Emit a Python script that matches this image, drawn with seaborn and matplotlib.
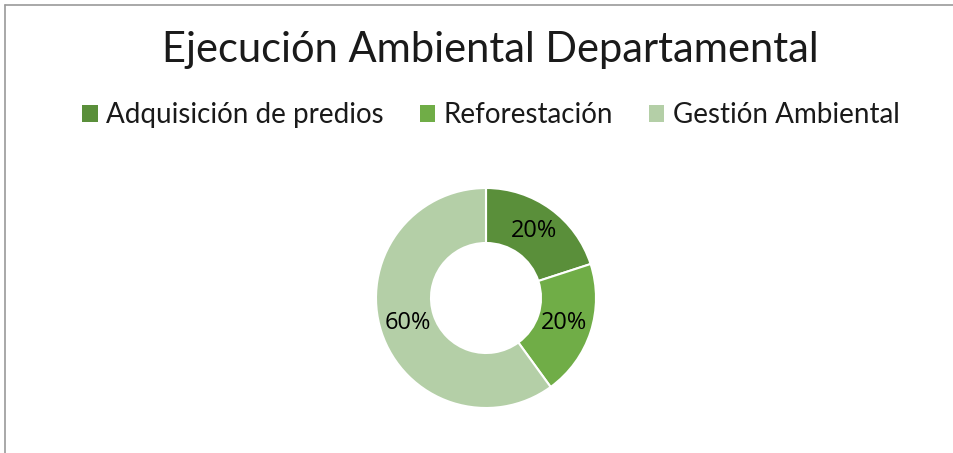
import matplotlib
matplotlib.use('Agg')
import matplotlib.pyplot as plt
from matplotlib.lines import Line2D
from matplotlib.patches import Patch
import seaborn as sns

categories = ['Adquisición de predios', 'Reforestación', 'Gestión Ambiental']
values = [20, 20, 60]
colors = ['#5A8F3A', '#70AD47', '#B4CFA7']

sns.set_theme(style='white')
plt.rcParams['font.family'] = ['Lato', 'DejaVu Sans']

W, H = 954, 453
fig = plt.figure(figsize=(W / 100, H / 100), dpi=100)
fig.patch.set_facecolor('white')

# donut centred at (486, 298) px, outer radius 110 px
cx, cy, r = 486, 298, 110
ax = fig.add_axes([(cx - r) / W, (H - cy - r) / H, 2 * r / W, 2 * r / H])
wedges, texts, autotexts = ax.pie(
    values, colors=colors, startangle=90, counterclock=False,
    autopct='%1.0f%%', pctdistance=0.75,
    wedgeprops=dict(width=0.5, edgecolor='white', linewidth=1.5),
    textprops=dict(fontsize=17, color='black', family=['Open Sans', 'DejaVu Sans']))
ax.set_xlim(-1, 1)
ax.set_ylim(-1, 1)
ax.set_aspect('equal')
ax.axis('off')

fig.text(490 / W, 1 - 50 / H, 'Ejecución Ambiental Departamental',
         ha='center', va='center', fontsize=30, color='#1a1a1a', fontweight='normal')

handles = [Patch(facecolor=c, edgecolor='none') for c in colors]
fig.legend(handles, categories, loc='center', bbox_to_anchor=(491 / W, 1 - 115 / H),
           ncol=3, frameon=False, fontsize=20, handlelength=0.55, handleheight=0.55,
           handletextpad=0.3, columnspacing=1.3, labelcolor='#1a1a1a')

# chart border (top and left edges visible)
fig.add_artist(Line2D([5 / W, 1], [1 - 5 / H, 1 - 5 / H], color='#9a9a9a', lw=1.2,
                      transform=fig.transFigure))
fig.add_artist(Line2D([5 / W, 5 / W], [0, 1 - 5 / H], color='#9a9a9a', lw=1.2,
                      transform=fig.transFigure))

fig.savefig('out.png', dpi=100, facecolor='white')
